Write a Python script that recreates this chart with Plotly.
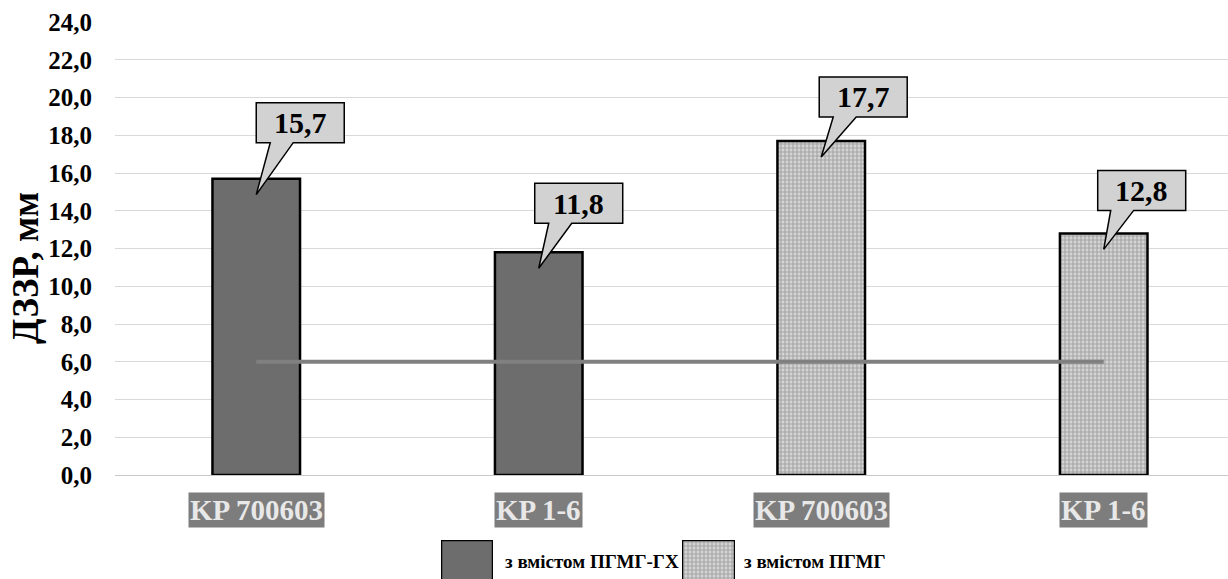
import plotly.graph_objects as go

# ---- data ----
strains = ["KP 700603", "KP 1-6", "KP 700603", "KP 1-6"]
zone_mm = [15.7, 11.8, 17.7, 12.8]
group_of_bar = [0, 0, 1, 1]
group_names = ["з вмістом ПГМГ-ГХ", "з вмістом ПГМГ"]
threshold_mm = 6.0
y_ticks = [0, 2, 4, 6, 8, 10, 12, 14, 16, 18, 20, 22, 24]

# ---- styling ----
SERIF = "Liberation Serif"
DARK = "#6d6d6d"
HATCH = dict(shape="+", fgcolor="#777777", bgcolor="#d4d4d4", size=4, solidity=0.5)
W, H = 1228, 579
ML, MT = 115, 22
plot_h = H - MT
bottom_px = 475
main_dom_y0 = (H - bottom_px) / plot_h


def px_to_paper_x(px):
    return (px - ML) / (W - ML)


def px_to_paper_y(py):
    return (H - py) / plot_h


def bar_marker(g):
    if g == 1:
        return dict(color="#d4d4d4", pattern=HATCH, line=dict(color="black", width=2.5))
    return dict(color=DARK, line=dict(color="black", width=2.5))


positions = list(range(len(strains)))
fig = go.Figure()

for g, name in enumerate(group_names):
    xs = [p for p, gg in zip(positions, group_of_bar) if gg == g]
    ys = [v for v, gg in zip(zone_mm, group_of_bar) if gg == g]
    fig.add_trace(go.Bar(x=xs, y=ys, name=name, width=0.31, marker=bar_marker(g),
                         showlegend=False, hoverinfo="y"))

# reference level line across the bars
fig.add_trace(go.Scatter(x=[positions[0], positions[-1]], y=[threshold_mm, threshold_mm],
                         mode="lines", line=dict(color="#808080", width=4),
                         showlegend=False, hoverinfo="skip"))

# ---- legend swatches as tiny subplots so the pattern fill carries over ----
swatch_px = [(441, 493), (682, 735)]
for g, (x0, x1) in enumerate(swatch_px):
    ax = g + 2
    fig.add_trace(go.Bar(x=[0], y=[1.5], base=[-0.5], width=1, marker=bar_marker(g),
                         xaxis=f"x{ax}", yaxis=f"y{ax}", showlegend=False, hoverinfo="skip"))
    fig.update_layout(**{
        f"xaxis{ax}": dict(domain=[px_to_paper_x(x0), px_to_paper_x(x1)], range=[-0.5, 0.5],
                           visible=False, fixedrange=True, anchor=f"y{ax}", automargin=False),
        f"yaxis{ax}": dict(domain=[0, px_to_paper_y(540)], range=[0, 1],
                           visible=False, fixedrange=True, anchor=f"x{ax}", automargin=False),
    })

legend_text_px = [(592, 561), (815, 561)]
annotations = []
for name, (cx, cy) in zip(group_names, legend_text_px):
    annotations.append(dict(text=name, xref="paper", yref="paper",
                            x=px_to_paper_x(cx), y=px_to_paper_y(cy), showarrow=False,
                            xanchor="center", yanchor="middle",
                            font=dict(family=SERIF, size=19, color="black", weight="bold")))

# category labels on grey plates
for p, lab in zip(positions, strains):
    annotations.append(dict(text=lab, xref="x", yref="paper", x=p, y=px_to_paper_y(510),
                            showarrow=False, bgcolor="#7d7d7d", borderpad=1,
                            xanchor="center", yanchor="middle",
                            font=dict(family=SERIF, size=29, color="#e8e8e8", weight="bold")))

# axis title
annotations.append(dict(text="ДЗЗР, мм", xref="paper", yref="paper",
                        x=px_to_paper_x(25), y=px_to_paper_y(268), textangle=-90,
                        showarrow=False, xanchor="center", yanchor="middle",
                        font=dict(family=SERIF, size=37, color="black", weight="bold")))

# speech-bubble value callouts (pixel offsets relative to each bar top)
box_w, box_h = 88, 40
lift = [36, 29, 24, 23]
left = [0, -4, -2, -6]
tail = [(14, 37), (10, 33), (12, 35), (7, 30)]
shapes = []
for p, v, lf, lx, (t0, t1) in zip(positions, zone_mm, lift, left, tail):
    path = (f"M 0,-16 L {t0},{lf} L {lx},{lf} L {lx},{lf + box_h} "
            f"L {lx + box_w},{lf + box_h} L {lx + box_w},{lf} L {t1},{lf} Z")
    shapes.append(dict(type="path", xref="x", yref="y", xsizemode="pixel", ysizemode="pixel",
                       xanchor=p, yanchor=v, path=path, fillcolor="#d2d2d2",
                       line=dict(color="black", width=1.5), layer="above"))
    annotations.append(dict(text=f"{v:.1f}".replace(".", ","), xref="x", yref="y", x=p, y=v,
                            xshift=lx + box_w / 2, yshift=lf + box_h / 2, showarrow=False,
                            xanchor="center", yanchor="middle",
                            font=dict(family=SERIF, size=30, color="black", weight="bold")))

fig.update_layout(
    width=W, height=H,
    margin=dict(l=ML, r=0, t=MT, b=0, autoexpand=False),
    paper_bgcolor="white", plot_bgcolor="white",
    separators=",.",
    xaxis=dict(domain=[0, 1], range=[-0.5, 3.44], showticklabels=False, showgrid=False,
               zeroline=False, showline=True, linecolor="#c8c8c8", linewidth=1,
               fixedrange=True, anchor="y", automargin=False),
    yaxis=dict(domain=[main_dom_y0, 1], range=[0, 24], tickvals=y_ticks, tickformat=".1f",
               showgrid=True, gridcolor="#d9d9d9", gridwidth=1, zeroline=False,
               ticks="", ticklabelstandoff=22, automargin=False,
               tickfont=dict(family=SERIF, size=25, color="black", weight="bold"),
               fixedrange=True, anchor="x"),
    shapes=shapes,
    annotations=annotations,
)

fig.write_html("out.html")
